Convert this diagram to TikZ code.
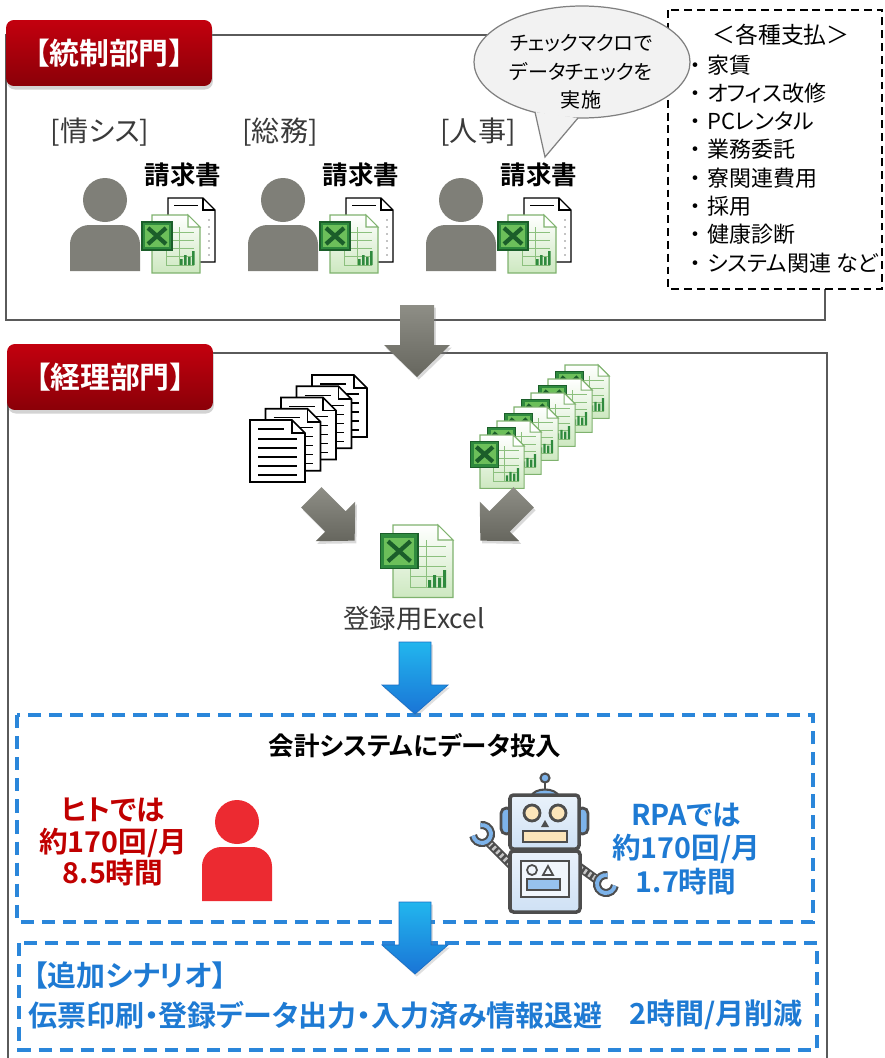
\documentclass[tikz,border=0pt]{standalone}
\usepackage{fontspec}
\setmainfont{Noto Sans CJK JP}[BoldFont={Noto Sans CJK JP Bold},RawFeature=+palt]
\usetikzlibrary{shadows}
\usetikzlibrary{calc}

\definecolor{framegray}{HTML}{5A5A5A}
\definecolor{tagtop}{HTML}{C3000E}
\definecolor{tagbot}{HTML}{8A0008}
\definecolor{labelgray}{HTML}{3A3A3A}
\definecolor{persongray}{HTML}{7F7F78}
\definecolor{greytop}{HTML}{8E8E86}
\definecolor{greybot}{HTML}{66665E}
\definecolor{bluetop}{HTML}{22B6EE}
\definecolor{bluebot}{HTML}{1A74D6}
\definecolor{blueedge}{HTML}{1C6FC4}
\definecolor{dashblue}{HTML}{2A86DA}
\definecolor{textblue}{HTML}{1E7AD3}
\definecolor{hitored}{HTML}{C00000}
\definecolor{iconred}{HTML}{EC2A31}
\definecolor{calloutfill}{HTML}{F2F2F2}
\definecolor{calloutline}{HTML}{808080}
\definecolor{xlsfill}{HTML}{CDE8C0}
\definecolor{xlsedge}{HTML}{7FB26E}
\definecolor{xlsgrid}{HTML}{8CC07E}
\definecolor{xlsgreen}{HTML}{2F8A3E}
\definecolor{xlsdark}{HTML}{1B5E2A}
\definecolor{xlslogo}{HTML}{6CBF5A}
\definecolor{robotline}{HTML}{4D4D4D}
\definecolor{robotfill}{HTML}{CFE1F5}
\definecolor{robotblue}{HTML}{7DB3EA}
\definecolor{robotcream}{HTML}{FCE5BA}

\tikzset{
  frame/.style={draw=framegray, line width=1.1pt},
  tag/.style={rounded corners=4.5pt, top color=tagtop, bottom color=tagbot, text=white,
    font=\bfseries\fontsize{17}{20}\selectfont, minimum width=4.12cm, minimum height=1.32cm,
    drop shadow={opacity=.35, shadow xshift=.5pt, shadow yshift=-2pt}},
  deptlabel/.style={text=labelgray, font=\fontsize{16}{18}\selectfont},
  bill/.style={font=\bfseries\fontsize{14.5}{17}\selectfont},
  paybox/.style={draw=black, fill=white, line width=.8pt, dash pattern=on 4.5pt off 2.8pt},
  payitem/.style={inner sep=0pt, font=\fontsize{12.5}{15}\selectfont},
  callout/.style={fill=calloutfill, draw=calloutline, line width=.7pt},
  calloutnote/.style={align=center, font=\fontsize{11.4}{16.2}\selectfont},
  taskbox/.style={draw=dashblue, line width=2.2pt, dash pattern=on 7.5pt off 4.5pt},
  tasktitle/.style={font=\bfseries\fontsize{14.5}{17}\selectfont},
  hito/.style={align=center, text=hitored, font=\bfseries\fontsize{16.3}{18}\selectfont},
  rpa/.style={align=center, text=textblue, font=\bfseries\fontsize{16.3}{19}\selectfont},
  extra/.style={text=textblue, inner sep=0pt, font=\bfseries\fontsize{16.5}{20}\selectfont},
  robotpart/.style={draw=robotline, line width=1.6pt},
  person/.pic={
    \fill (0,0) circle (22);
    \fill (-35,#1) [rounded corners=11pt] -- (-35,25) -- (35,25) [sharp corners] -- (35,#1) -- cycle;
  },
  xls/.pic={
    \shadedraw[top color=white, bottom color=xlsfill, draw=xlsedge, line width=.6pt]
      (0,0) -- (36,0) -- (48,12) -- (48,58) -- (0,58) -- cycle;
    \filldraw[fill=white, draw=xlsedge, line width=.6pt] (36,0) -- (36,12) -- (48,12) -- cycle;
    \draw[xlsgrid, line width=.4pt] (14,17) -- (42,17) (14,25) -- (42,25) (14,33) -- (42,33)
      (14,41) -- (42,41) (14,50) -- (42,50) (27,12) -- (27,50) (14,17) -- (14,50);
    \fill[xlsgreen] (28,50) rectangle (30.5,44) (32,50) rectangle (34.5,40)
      (36,50) rectangle (38.5,42) (40,50) rectangle (42.5,36);
    \filldraw[fill=xlsgreen, draw=xlsdark, line width=.6pt] (-10,7) rectangle (20,35);
    \fill[xlslogo] (-7,10) rectangle (17,32);
    \draw[xlsdark, line width=2.4pt] (-4,13) -- (14,29) (14,13) -- (-4,29);
  },
  memo/.pic={
    \filldraw[fill=white, draw=black, line width=.8pt] (0,0) -- (35,0) -- (47,12) -- (47,64) -- (0,64) -- cycle;
    \draw[line width=.8pt] (35,0) -- (35,12) -- (47,12);
    \draw[line width=.5pt] (6,7) -- (30,7);
    \foreach \d in {0,...,5} \fill (41,22+7*\d) circle (.7);
  },
  paper/.pic={
    \filldraw[fill=white, draw=black, line width=.9pt] (0,0) -- (42,0) -- (55,13) -- (55,62) -- (0,62) -- cycle;
    \draw[line width=.9pt] (42,0) -- (42,13) -- (55,13);
    \draw[line width=.7pt] (8,9) -- (34,9);
    \foreach \l in {19,28,37,46,55} \draw[line width=.7pt] (8,\l) -- (47,\l);
  },
  greyarrow/.pic={
    \shade[top color=greytop, bottom color=greybot,
      drop shadow={opacity=.3, shadow xshift=1pt, shadow yshift=-1.5pt}]
      (-17,-36) -- (17,-36) -- (17,4) -- (33,4) -- (0,36) -- (-33,4) -- (-17,4) -- cycle;
  },
  bluearrow/.pic={
    \shadedraw[top color=bluetop, bottom color=bluebot, draw=blueedge, line width=.4pt,
      drop shadow={opacity=.25, shadow xshift=1pt, shadow yshift=-1.5pt}]
      (-16,-36) -- (16,-36) -- (16,7) -- (33,7) -- (0,36) -- (-33,7) -- (-16,7) -- cycle;
  },
}

\begin{document}
\begin{tikzpicture}[x=0.02cm, y=-0.02cm]
  \useasboundingbox (0,0) rectangle (885,1058);

  \draw[frame] (6,35) rectangle (825,320);
  \draw[frame] (8,353) rectangle (827,1080);
  \node[tag] (ctrl) at (109,53) {【統制部門】};
  \node[tag] (acct) at (110,377) {【経理部門】};

  \filldraw[paybox] (668,10) rectangle (882,289);
  \node[font=\fontsize{13}{15}\selectfont] (payhead) at (781,35) {＜各種支払＞};

  \filldraw[callout] (582,62) ellipse (108 and 56);
  \fill[calloutfill] (535,112) -- (545,157) -- (578,118) -- cycle;
  \draw[calloutline, line width=.7pt] (535,112) -- (545,157) -- (578,118);
  \node[calloutnote] (check) at (581,72) {チェックマクロで\\データチェックを\\実施};

  \foreach \pay [count=\i] in {家賃,オフィス改修,PCレンタル,業務委託,寮関連費用,採用,健康診断,システム関連 など} {
    \node[payitem, anchor=base] (dot\i) at (695,73+28.3*\i-28.3) {・};
    \node[payitem, anchor=base west] (pay\i) at (707,73+28.3*\i-28.3) {\pay};
  }

  \foreach \dept/\dx in {情シス/0, 総務/178, 人事/356} {
    \path (105+\dx,200) pic[fill=persongray] (staff\dx) {person=71};
    \path (168+\dx,198) pic (memo\dx) {memo};
    \path (152+\dx,215) pic (bill\dx) {xls};
    \node[bill] (billtext\dx) at (183+\dx,175) {請求書};
  }
  \node[deptlabel] (infosys) at (100,132) {[情シス]};
  \node[deptlabel] (general) at (280,132) {[総務]};
  \node[deptlabel] (hr) at (478,132) {[人事]};

  \path (417,341) pic (handover) {greyarrow};

  \foreach \k in {4,...,0}
    \path (250+15.5*\k,420-11.25*\k) pic (paper\k) {paper};
  \foreach \k in {5,...,0}
    \path (480+17*\k,435-14*\k) pic[scale=.92] (sheet\k) {xls};

  \path (333,519) pic[rotate=45, scale=.85] (fromleft) {greyarrow};
  \path (502,519) pic[rotate=-45, scale=.85] (fromright) {greyarrow};

  \path (393,525) pic[scale=1.25] (entry) {xls};
  \node[text=labelgray, font=\fontsize{15}{17}\selectfont] (entrylabel) at (414,619) {登録用Excel};

  \draw[taskbox] (17,715) rectangle (813,922);
  \draw[taskbox] (19,943) rectangle (817,1050);
  \path (415,678) pic (toinput) {bluearrow};
  \path (415,938) pic (toextra) {bluearrow};

  \node[tasktitle] (input) at (415,746) {会計システムにデータ投入};
  \node[hito] (manual) at (113,842) {ヒトでは\\約170回/月\\8.5時間};
  \path (237,822) pic[fill=iconred] (worker) {person=79};
  \node[rpa] (robotext) at (686,849) {RPAでは\\約170回/月\\1.7時間};

  % robot
  \draw[robotline, line width=5pt] (512,866) -- (488,842);
  \draw[gray!45, line width=3pt, dash pattern=on 1.4pt off 1.6pt] (510,864) -- (490,844);
  \draw[robotline, line width=5pt] (578,866) -- (600,882);
  \draw[gray!45, line width=3pt, dash pattern=on 1.4pt off 1.6pt] (580,868) -- (598,880);
  \draw[robotline, line width=4.6pt] (482,834) ++(170:9) arc[start angle=170, end angle=-100, radius=9];
  \draw[robotblue, line width=2.2pt] (482,834) ++(170:9) arc[start angle=170, end angle=-100, radius=9];
  \draw[robotline, line width=4.6pt] (606,884) ++(10:9) arc[start angle=10, end angle=280, radius=9];
  \draw[robotblue, line width=2.2pt] (606,884) ++(10:9) arc[start angle=10, end angle=280, radius=9];
  \filldraw[robotpart, fill=robotblue, rounded corners=3pt] (501,808) rectangle (512,834);
  \filldraw[robotpart, fill=robotblue, rounded corners=3pt] (577,808) rectangle (588,834);
  \draw[robotline, line width=1.5pt] (545,796) -- (545,781);
  \filldraw[robotpart, fill=robotblue, line width=1.2pt] (545,778) circle (4.5);
  \filldraw[robotpart, fill=robotblue, line width=1.2pt] (531,797) .. controls (533,787) and (557,787) .. (559,797) -- cycle;
  \draw[robotpart, line width=2pt, rounded corners=2pt, top color=white!55!robotfill, bottom color=robotfill] (510,795) rectangle (579,849);
  \filldraw[robotpart, fill=robotcream] (532,813) circle (8) (558,813) circle (8);
  \fill[robotline] (541,827) -- (549,827) -- (545,820) -- cycle;
  \filldraw[robotpart, fill=robotcream] (523,831) rectangle (567,842);
  \draw[robotpart, line width=2pt, rounded corners=2pt, top color=white!55!robotfill, bottom color=robotfill] (510,851) rectangle (580,912);
  \filldraw[robotpart, fill=white!70!robotfill, line width=1.2pt] (521,861) rectangle (569,897);
  \draw[robotline, line width=1pt] (532,870) circle (5);
  \draw[robotline, line width=1pt] (543,875) -- (553,875) -- (548,866) -- cycle;
  \filldraw[robotpart, fill=robotblue!80, line width=1pt] (527,879) rectangle (560,890);

  \node[extra, anchor=west] (scenario) at (33,975) {【追加シナリオ】};
  \node[extra, anchor=west] (tasks) at (28,1015) {伝票印刷・登録データ出力・入力済み情報退避};
  \node[extra, anchor=east] (saving) at (803,1015) {2時間/月削減};
\end{tikzpicture}
\end{document}
